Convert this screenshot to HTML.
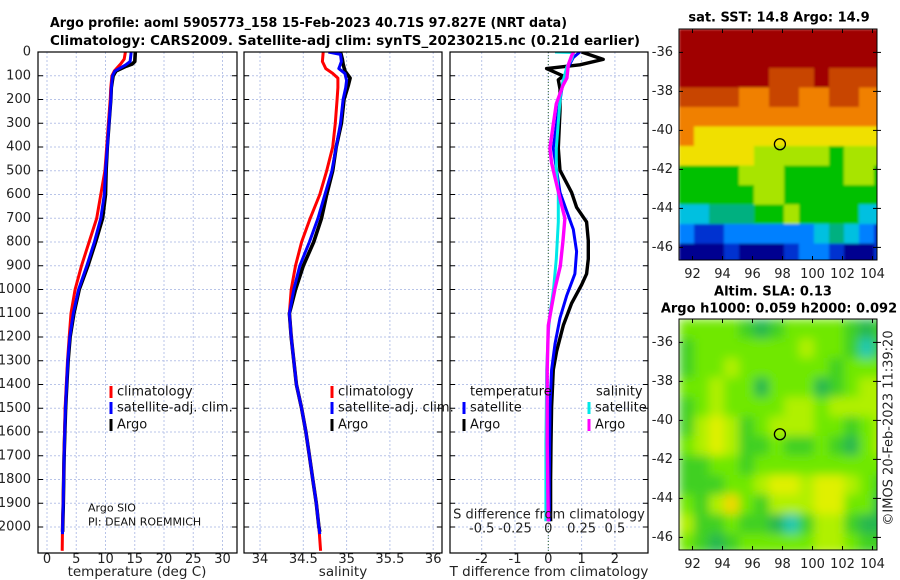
<!DOCTYPE html>
<html><head><meta charset="utf-8">
<style>
html,body{margin:0;padding:0;background:#fff;}
svg{display:block;font-family:"DejaVu Sans","Liberation Sans",sans-serif;}
</style></head>
<body>
<svg id="chart" width="900" height="580" viewBox="0 0 900 580" xmlns="http://www.w3.org/2000/svg">
<defs>
<filter id="blurS" x="0" y="0" width="1" height="1"><feGaussianBlur stdDeviation="1.2"/></filter>
<filter id="blurA" x="0" y="0" width="1" height="1"><feGaussianBlur stdDeviation="5"/></filter>
<clipPath id="clipP1"><rect x="38" y="52" width="199" height="501"/></clipPath>
<clipPath id="clipP2"><rect x="244" y="52" width="198" height="501"/></clipPath>
<clipPath id="clipP3"><rect x="450" y="52" width="198" height="501"/></clipPath>
<clipPath id="clipM1"><rect x="679" y="29" width="198" height="231"/></clipPath>
<clipPath id="clipM2"><rect x="679" y="319" width="198" height="231"/></clipPath>
</defs>
<g font-weight="bold" font-size="13.5">
<text x="50" y="27" textLength="517" lengthAdjust="spacingAndGlyphs">Argo profile: aoml 5905773_158 15-Feb-2023 40.71S 97.827E (NRT data)</text>
<text x="50" y="45" textLength="590" lengthAdjust="spacingAndGlyphs">Climatology: CARS2009. Satellite-adj clim: synTS_20230215.nc (0.21d earlier)</text>
</g>
<g id="layer"></g>
</svg>
<script>
// ---- Temperature profiles (deg C) ----
const tClimDepth=[0,30,50,80,100,150,200,300,400,500,600,700,800,900,1000,1100,1200,1300,1400,1500,1700,1900,2000,2100];
const tClim=[13.4,13.2,12.6,11.5,11.1,10.9,10.8,10.5,10.2,9.9,9.2,8.5,7.2,5.9,4.8,4.1,3.8,3.5,3.3,3.1,2.9,2.75,2.65,2.6];
const tSatDepth=[0,40,55,80,100,150,200,300,400,500,600,700,800,900,1000,1100,1200,1300,1400,1500,1700,1900,2000,2030];
const tSat=[14.4,14.2,13.4,11.6,11.2,11.0,10.9,10.6,10.3,10.0,9.8,9.2,8.1,6.8,5.4,4.5,3.9,3.55,3.35,3.15,2.92,2.77,2.67,2.65];
const tArgoDepth=[0,40,50,60,80,100,150,200,300,400,500,600,700,800,900,1000,1100,1200,1300,1400,1500,1700,1900,2000,2020];
const tArgo=[15.1,15.0,14.6,13.5,11.8,11.3,11.0,10.9,10.6,10.3,10.1,10.0,9.5,8.3,7.0,5.5,4.6,3.95,3.6,3.38,3.18,2.93,2.78,2.68,2.66];
// ---- Salinity profiles (psu) ----
const sClimDepth=[0,40,70,90,110,150,200,300,400,500,600,700,800,900,1000,1100,1200,1300,1400,1500,1600,1700,1800,1900,2000,2100];
const sClim=[34.73,34.72,34.76,34.84,34.9,34.9,34.89,34.87,34.84,34.77,34.69,34.58,34.48,34.41,34.36,34.34,34.36,34.39,34.42,34.48,34.53,34.57,34.61,34.65,34.68,34.7];
const sSatDepth=[0,10,40,60,70,90,120,150,200,300,400,500,600,700,800,900,1000,1100,1200,1300,1400,1500,1600,1700,1800,1900,2000,2030];
const sSat=[34.79,34.93,34.94,34.92,34.91,34.98,35.0,34.99,34.96,34.93,34.88,34.83,34.75,34.67,34.57,34.46,34.39,34.34,34.36,34.39,34.42,34.48,34.53,34.57,34.61,34.65,34.68,34.69];
const sArgoDepth=[0,30,50,80,110,140,200,300,400,500,600,700,800,900,1000,1100,1200,1300,1400,1500,1600,1700,1800,1900,2000,2020];
const sArgo=[34.93,34.95,34.96,34.98,35.04,35.02,34.97,34.94,34.88,34.84,34.77,34.71,34.62,34.5,34.41,34.34,34.36,34.39,34.42,34.48,34.53,34.57,34.61,34.65,34.68,34.69];
// ---- Differences from climatology ----
const dTArgoDepth=[0,31,54,70,101,117,156,249,405,498,591,654,716,794,871,934,980,1058,1151,1260,1338,1494,1649,1805,1976];
const dTArgo=[1.0,1.65,0.95,-0.05,0.45,0.3,0.35,0.35,0.3,0.35,0.7,0.85,1.15,1.2,1.2,1.15,1.0,0.7,0.45,0.25,0.15,0.1,0.08,0.07,0.07];
const dTSatDepth=[0,23,78,117,249,405,498,591,669,747,840,934,1027,1120,1229,1338,1494,1805,1976];
const dTSat=[0.95,0.75,0.55,0.45,0.3,0.15,0.25,0.35,0.55,0.75,0.85,0.8,0.55,0.35,0.2,0.1,0.05,0.03,0.03];
const dSSatDepth=[0,2,31,62,124,187,405,498,591,716,871,996,1105,1182,1338,1649,1976];
const dSSat=[0.05,0.19,0.175,0.14,0.11,0.09,0.06,0.06,0.075,0.075,0.06,0.04,0.012,0.0,-0.012,-0.018,-0.018];
const dSArgoDepth=[0,16,54,109,140,218,296,405,467,529,622,700,794,902,996,1073,1151,1338,1649,1976];
const dSArgo=[0.19,0.175,0.15,0.14,0.11,0.06,0.04,0.012,0.025,0.05,0.09,0.125,0.11,0.09,0.05,0.025,0.0,-0.008,-0.008,0.0];
// ---- Axis ticks ----
const depthTicks=[0,100,200,300,400,500,600,700,800,900,1000,1100,1200,1300,1400,1500,1600,1700,1800,1900,2000];
const tTicks=[0,5,10,15,20,25,30];
const sTicks=[34,34.5,35,35.5,36];
const sTickLabels=["34","34.5","35","35.5","36"];
const dTTicks=[-2,-1,0,1,2];
const dSTicks=[-0.5,-0.25,0,0.25,0.5];
const dSTickLabels=["-0.5","-0.25","0","0.25","0.5"];
const lonTicks=[92,94,96,98,100,102,104];
const latTicks=[-36,-38,-40,-42,-44,-46];
// ---- Map grids (1 deg cells, rows north->south from 34.8S, cols from 91.1E) ----
const sstGrid=[
[10,10,10,10,10,10,10,10,10,10,10,10,10,10],
[10,10,10,10,10,10,10,10,10,10,10,10,10,10],
[10,10,10,10,10,10,9,9,9,10,9,9,9,9],
[9,9,9,9,8,8,9,9,8,8,9,9,8,8],
[8,8,8,8,8,8,8,8,8,8,8,8,8,8],
[8,7,7,7,7,7,7,7,7,7,7,7,7,7],
[7,7,7,7,7,6,6,6,6,6,5,6,6,6],
[5,5,5,5,6,6,6,5,5,5,5,6,6,5],
[5,5,5,5,5,6,6,5,5,5,5,5,5,5],
[3,3,4,4,4,5,5,6,5,5,5,5,3,3],
[2,1,1,2,2,2,2,2,2,3,4,3,2,1],
[0,0,0,1,0,0,0,1,2,2,1,0,0,1]];
const slaGrid=[
[3,3,3,3,2,1,2,3,3,3,3,2,1,2],
[2,3,3,3,3,3,3,3,4,3,3,2,0,2],
[2,3,3,4,3,3,3,3,3,3,2,3,3,3],
[3,3,4,3,3,1,3,3,3,1,2,3,4,4],
[2,3,4,3,3,3,3,4,4,3,4,4,4,4],
[2,4,5,4,2,3,4,4,4,3,3,2,3,4],
[3,4,5,4,2,2,3,2,2,3,2,1,3,4],
[2,2,3,3,2,3,3,3,3,3,3,3,3,3],
[2,2,2,3,3,4,5,5,4,5,5,4,3,2],
[3,2,4,6,3,2,4,4,4,5,5,3,3,1],
[4,2,2,3,2,2,1,0,2,4,4,2,1,1],
[3,2,1,2,3,3,3,3,3,4,4,3,2,2]];
const argoLon=97.827, argoLat=-40.71;

const sstColors=["#000090","#0030d0","#0080ff","#00c0e0","#00b080","#00c000","#a8e400","#f0e000","#f08000","#c84400","#a00000"];
const slaColors=["#20c8b0","#28b850","#40d020","#70e800","#b0f000","#e0f000","#f0d800"];

const NS="http://www.w3.org/2000/svg";
const layer=document.getElementById('layer');
function mk(tag,attrs,parent){const e=document.createElementNS(NS,tag);for(const k in attrs)e.setAttribute(k,attrs[k]);(parent||layer).appendChild(e);return e;}
function txt(x,y,s,attrs,parent){const e=mk('text',Object.assign({x:x,y:y},attrs||{}),parent);e.textContent=s;return e;}

const yD=d=>52+d*0.2375;
const p1x=t=>47+t*5.85;
const p2x=s=>260+(s-34)*86.6;
const p3x=t=>548.3+t*33.3;
const p3s=s=>548.3+s*133.2;
const mx=lon=>679+(lon-91.1)*15;
const myTop=lat=>29+(-34.8-lat)*19.5;
const myBot=lat=>319+(-34.8-lat)*19.5;

const panels=[{x0:38,x1:237,name:'temperature-panel'},{x0:244,x1:442,name:'salinity-panel'},{x0:450,x1:648,name:'difference-panel'}];
const pg=[];
panels.forEach((p,i)=>{
  const g=mk('g',{});
  
  
  pg.push(g);
  depthTicks.forEach(d=>{
    const l=mk('line',{x1:p.x0,x2:p.x1,y1:yD(d),y2:yD(d),stroke:'#b8c4e8','stroke-width':1,'stroke-dasharray':'2,2'},g);
    
    
    [p.x0,p.x1].forEach((xx,j)=>{const tk=mk('line',{x1:xx,x2:xx+(j?-5:5),y1:yD(d),y2:yD(d),stroke:'#000','stroke-width':1},g);
      
      });
  });
});
tTicks.forEach(t=>{const l=mk('line',{x1:p1x(t),x2:p1x(t),y1:52,y2:553,stroke:'#b8c4e8','stroke-width':1,'stroke-dasharray':'2,2'},pg[0]);
  
  
  const tl=txt(p1x(t),554,String(t),{'font-size':13,'text-anchor':'middle','dominant-baseline':'hanging',fill:'#222'},pg[0]);
  
  });
sTicks.forEach((s,i)=>{const l=mk('line',{x1:p2x(s),x2:p2x(s),y1:52,y2:553,stroke:'#b8c4e8','stroke-width':1,'stroke-dasharray':'2,2'},pg[1]);
  
  
  const tl=txt(p2x(s),554,sTickLabels[i],{'font-size':13,'text-anchor':'middle','dominant-baseline':'hanging',fill:'#222'},pg[1]);
  
  });
dTTicks.forEach(t=>{const l=mk('line',{x1:p3x(t),x2:p3x(t),y1:52,y2:553,stroke:'#b8c4e8','stroke-width':1,'stroke-dasharray':'2,2'},pg[2]);
  
  
  const tl=txt(p3x(t),554,String(t),{'font-size':13,'text-anchor':'middle','dominant-baseline':'hanging',fill:'#222'},pg[2]);
  
  });
{const z=mk('line',{x1:p3x(0),x2:p3x(0),y1:52,y2:553,stroke:'#336633','stroke-width':1,'stroke-dasharray':'1,2'},pg[2]);

}
depthTicks.forEach(d=>{const tl=txt(31,yD(d),String(d),{'font-size':13,'text-anchor':'end','dominant-baseline':'central',fill:'#222'});
  
  });

function series(parent,depths,vals,xf,color,w,clip,name){
  const pts=depths.map((d,i)=>xf(vals[i]).toFixed(1)+','+yD(d).toFixed(1)).join(' ');
  const pl=mk('polyline',{points:pts,fill:'none',stroke:color,'stroke-width':w,'stroke-linejoin':'round','clip-path':'url(#'+clip+')'},parent);
  
  
}
series(pg[0],tArgoDepth,tArgo,p1x,'#000',3.6,'clipP1','temperature-argo-line');
series(pg[0],tClimDepth,tClim,p1x,'#f00',3,'clipP1','temperature-climatology-line');
series(pg[0],tSatDepth,tSat,p1x,'#00f',3,'clipP1','temperature-satellite-line');
series(pg[1],sArgoDepth,sArgo,p2x,'#000',3.6,'clipP2','salinity-argo-line');
series(pg[1],sClimDepth,sClim,p2x,'#f00',3,'clipP2','salinity-climatology-line');
series(pg[1],sSatDepth,sSat,p2x,'#00f',3,'clipP2','salinity-satellite-line');
series(pg[2],dTArgoDepth,dTArgo,p3x,'#000',3.4,'clipP3','t-difference-argo-line');
series(pg[2],dTSatDepth,dTSat,p3x,'#00f',3,'clipP3','t-difference-satellite-line');
series(pg[2],dSSatDepth,dSSat,p3s,'#00e8e8',3,'clipP3','s-difference-satellite-line');
series(pg[2],dSArgoDepth,dSArgo,p3s,'#ff00ff',3.4,'clipP3','s-difference-argo-line');

dSTicks.forEach((s,i)=>{const tl=txt(p3s(s),529,dSTickLabels[i],{'font-size':13,'text-anchor':'middle','dominant-baseline':'central',fill:'#222'},pg[2]);
  
  });
{const t=txt(549,515,'S difference from climatology',{'font-size':13,'text-anchor':'middle','dominant-baseline':'central',fill:'#222'},pg[2]);
}

panels.forEach((p,i)=>{const r=mk('rect',{x:p.x0,y:52,width:p.x1-p.x0,height:501,fill:'none',stroke:'#000','stroke-width':1.2},pg[i]);
  
  });

[[137,'temperature (deg C)','temperature-axis-title'],[343,'salinity','salinity-axis-title'],[549,'T difference from climatology','t-difference-axis-title']].forEach(a=>{
  const t=txt(a[0],572,a[1],{'font-size':13.5,'text-anchor':'middle','dominant-baseline':'central',fill:'#222'});
  
  });

function legItem(x,y,color,label,name){
  const g=mk('g',{});
  
  
  mk('line',{x1:x,x2:x,y1:y-6,y2:y+6,stroke:color,'stroke-width':3},g);
  txt(x+6,y,label,{'font-size':13,'dominant-baseline':'central',fill:'#111'},g);
}
legItem(111,392,'#f00','climatology','legend-temperature-climatology');
legItem(111,408,'#00f','satellite-adj. clim.','legend-temperature-satellite');
legItem(111,425,'#000','Argo','legend-temperature-argo');
legItem(332,392,'#f00','climatology','legend-salinity-climatology');
legItem(332,408,'#00f','satellite-adj. clim.','legend-salinity-satellite');
legItem(332,425,'#000','Argo','legend-salinity-argo');
{const t=txt(470,392,'temperature',{'font-size':13,'dominant-baseline':'central',fill:'#111'});}
{const t=txt(596,392,'salinity',{'font-size':13,'dominant-baseline':'central',fill:'#111'});}
legItem(464,408,'#00f','satellite','legend-dt-satellite');
legItem(464,425,'#000','Argo','legend-dt-argo');
legItem(589,408,'#00e8e8','satellite','legend-ds-satellite');
legItem(589,425,'#ff00ff','Argo','legend-ds-argo');
{const t=txt(88,508,'Argo SIO',{'font-size':11,'dominant-baseline':'central',fill:'#111'});}
{const t=txt(88,522,'PI: DEAN ROEMMICH',{'font-size':11,'dominant-baseline':'central',fill:'#111'});}

function drawMap(grid,colors,my,clip,filt,name,y0){
  const g=mk('g',{});
  
  
  const cg=mk('g',{'clip-path':'url(#'+clip+')'},g);
  const fg=mk('g',{filter:'url(#'+filt+')'},cg);
  grid.forEach((row,r)=>row.forEach((v,c)=>{
    const lat=-34.8-r, lon=91.1+c;
    const x=mx(lon), y=my(lat);
    const cell=mk('rect',{x:x.toFixed(1),y:y.toFixed(1),width:15.5,height:20,fill:colors[v]},fg);
    
    
  }));
  const c=mk('circle',{cx:mx(argoLon),cy:my(argoLat),r:5.5,fill:'none',stroke:'#000','stroke-width':1.3},g);
  
  
  mk('rect',{x:679,y:y0,width:198,height:231,fill:'none',stroke:'#000','stroke-width':1},g);
  lonTicks.forEach(l=>{
    mk('line',{x1:mx(l),x2:mx(l),y1:y0+231,y2:y0+227,stroke:'#000'},g);
    mk('line',{x1:mx(l),x2:mx(l),y1:y0,y2:y0+4,stroke:'#000'},g);
    const t=txt(mx(l),y0+240,String(l),{'font-size':13,'text-anchor':'middle','dominant-baseline':'hanging',fill:'#222'},g);
    
    
  });
  latTicks.forEach(l=>{
    mk('line',{x1:679,x2:683,y1:my(l),y2:my(l),stroke:'#000'},g);
    mk('line',{x1:877,x2:873,y1:my(l),y2:my(l),stroke:'#000'},g);
    mk('line',{x1:877,x2:881,y1:my(l),y2:my(l),stroke:'#000'},g);
    const t=txt(673,my(l),String(l),{'font-size':13,'text-anchor':'end','dominant-baseline':'central',fill:'#222'},g);
    
    
  });
  return g;
}
drawMap(sstGrid,sstColors,myTop,'clipM1','blurS','sst-map',29);
drawMap(slaGrid,slaColors,myBot,'clipM2','blurA','sla-map',319);
{const t=txt(779,18,'sat. SST: 14.8 Argo: 14.9',{'font-size':13,'font-weight':'bold','text-anchor':'middle','dominant-baseline':'central'});}
{const t=txt(773,292,'Altim. SLA: 0.13',{'font-size':13,'font-weight':'bold','text-anchor':'middle','dominant-baseline':'central'});}
{const t=txt(779,309,'Argo h1000: 0.059 h2000: 0.092',{'font-size':13,'font-weight':'bold','text-anchor':'middle','dominant-baseline':'central'});}
{const t=txt(0,0,'©IMOS 20-Feb-2023 11:39:20',{'font-size':13,'text-anchor':'middle','dominant-baseline':'central',fill:'#222',transform:'translate(889,428) rotate(-90)'});}
</script>
</body></html>
